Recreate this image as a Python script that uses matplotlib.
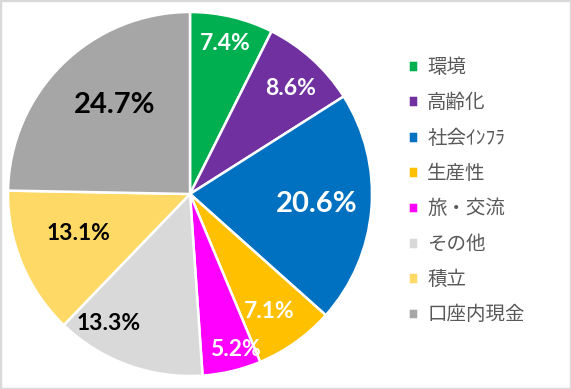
import matplotlib.pyplot as plt
from matplotlib.patches import Rectangle
import numpy as np

plt.rcParams['font.family'] = ['Noto Sans CJK JP', 'DejaVu Sans']

# データ
labels = ['環境', '高齢化', '社会ｲﾝﾌﾗ', '生産性', '旅・交流', 'その他', '積立', '口座内現金']
values = [7.4, 8.6, 20.6, 7.1, 5.2, 13.3, 13.1, 24.7]
colors = ['#00B050', '#7030A0', '#0070C0', '#FFC000', '#FF00FF', '#D9D9D9', '#FFD966', '#A6A6A6']
text_colors = ['white', 'white', 'white', 'white', 'white', 'black', 'black', 'black']

# ラベル位置・サイズ（見た目の調整用）
label_r = [0.85, 0.80, 0.70, 0.78, 0.89, 0.84, 0.65, 0.64]
label_da = [0, -1.5, 0, -1.5, 3, -12, -3, -4]
label_fs = [16.5, 16.5, 21, 16.5, 16.5, 16.5, 16.5, 21]

fig = plt.figure(figsize=(5.71, 3.89), dpi=100)
ax = fig.add_axes([8 / 571, 13 / 389, 364 / 571, 364 / 389])

wedges, _ = ax.pie(values, colors=colors, startangle=90, counterclock=False,
                   wedgeprops=dict(edgecolor='white', linewidth=1.8))
ax.set_aspect('equal')
ax.set_xlim(-1, 1)
ax.set_ylim(-1, 1)

for w, v, r, da, fs, tc in zip(wedges, values, label_r, label_da, label_fs, text_colors):
    ang = np.deg2rad((w.theta1 + w.theta2) / 2 + da)
    ax.text(r * np.cos(ang), r * np.sin(ang), f'{v:.1f}%', ha='center', va='center',
            fontsize=fs, fontweight='bold', color=tc, family=['Lato', 'DejaVu Sans'])

leg = fig.legend(wedges, labels, loc='upper left', bbox_to_anchor=(400 / 571, 1 - 49 / 389),
                 frameon=False, fontsize=14, handlelength=0.55, handleheight=0.55,
                 handletextpad=0.45, labelspacing=0.74, borderaxespad=0)
for t in leg.get_texts():
    t.set_color('#595959')

fig.patches.append(Rectangle((0, 0), 1, 1, transform=fig.transFigure, fill=False,
                             edgecolor='#D9D9D9', linewidth=2.5))

fig.savefig('out.png', dpi=100)
